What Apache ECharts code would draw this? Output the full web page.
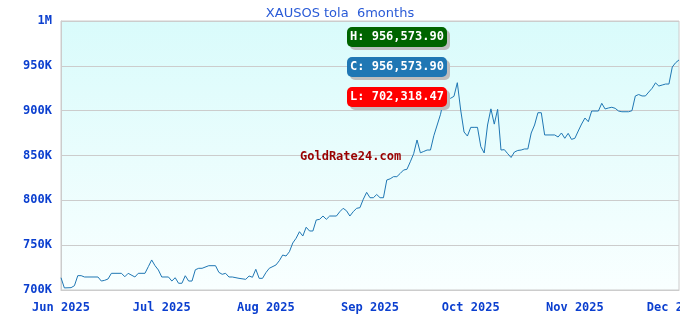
<!DOCTYPE html>
<html>
<head>
<meta charset="utf-8">
<script src="https://cdn.jsdelivr.net/npm/echarts@6/dist/echarts.min.js"></script>
<style>
html,body{margin:0;padding:0;background:#fff;}
#c{width:680px;height:320px;}
</style>
</head>
<body>
<div id="c"></div>
<script>
const chartTitle = 'XAUSOS tola  6months';
const watermark = 'GoldRate24.com';
const yTicks = [700000, 750000, 800000, 850000, 900000, 950000, 1000000];
const monthNames = ['Jan','Feb','Mar','Apr','May','Jun','Jul','Aug','Sep','Oct','Nov','Dec'];

const dates = [
'2025-06-01','2025-06-02','2025-06-04','2025-06-05','2025-06-06','2025-06-07','2025-06-08','2025-06-12','2025-06-13','2025-06-14',
'2025-06-15','2025-06-16','2025-06-19','2025-06-20','2025-06-21','2025-06-23','2025-06-24','2025-06-26','2025-06-27','2025-06-28',
'2025-06-29','2025-06-30','2025-07-01','2025-07-03','2025-07-04','2025-07-05','2025-07-06','2025-07-07','2025-07-08','2025-07-09',
'2025-07-10','2025-07-11','2025-07-12','2025-07-13','2025-07-15','2025-07-17','2025-07-18','2025-07-19','2025-07-20','2025-07-21',
'2025-07-22','2025-07-24','2025-07-26','2025-07-27','2025-07-28','2025-07-29','2025-07-30','2025-07-31','2025-08-01','2025-08-02',
'2025-08-04','2025-08-05','2025-08-06','2025-08-07','2025-08-08','2025-08-09','2025-08-10','2025-08-11','2025-08-12','2025-08-13',
'2025-08-14','2025-08-15','2025-08-16','2025-08-17','2025-08-18','2025-08-19','2025-08-20','2025-08-22','2025-08-23','2025-08-24',
'2025-08-25','2025-08-26','2025-08-27','2025-08-28','2025-08-29','2025-08-30','2025-08-31','2025-09-01','2025-09-02','2025-09-03',
'2025-09-04','2025-09-05','2025-09-06','2025-09-07','2025-09-08','2025-09-09','2025-09-10','2025-09-11','2025-09-12','2025-09-13',
'2025-09-14','2025-09-15','2025-09-16','2025-09-17','2025-09-18','2025-09-19','2025-09-20','2025-09-21','2025-09-22','2025-09-23',
'2025-09-24','2025-09-25','2025-09-26','2025-09-27','2025-09-28','2025-09-29','2025-09-30','2025-10-01','2025-10-02','2025-10-03',
'2025-10-04','2025-10-05','2025-10-06','2025-10-07','2025-10-08','2025-10-09','2025-10-10','2025-10-11','2025-10-12','2025-10-13',
'2025-10-14','2025-10-15','2025-10-16','2025-10-17','2025-10-18','2025-10-19','2025-10-20','2025-10-21','2025-10-22','2025-10-23',
'2025-10-26','2025-10-27','2025-10-28','2025-10-29','2025-10-30','2025-10-31','2025-11-01','2025-11-02','2025-11-03','2025-11-04',
'2025-11-05','2025-11-06','2025-11-08','2025-11-09','2025-11-10','2025-11-11','2025-11-12','2025-11-13','2025-11-14','2025-11-15',
'2025-11-17','2025-11-18','2025-11-19','2025-11-20','2025-11-21','2025-11-22','2025-11-23','2025-11-24','2025-11-25','2025-11-26',
'2025-11-27','2025-11-28','2025-11-29','2025-11-30','2025-12-01','2025-12-02'
];

const prices = [
713700, 702318.47, 702600, 704800, 716000, 716000, 714500, 714500, 710000, 710800,
712300, 718600, 718600, 714800, 718600, 714500, 718600, 718600, 726000, 733500,
727100, 722300, 714500, 714500, 710000, 713700, 707500, 707500, 715900, 710000,
710000, 722600, 724200, 724200, 727100, 727100, 719700, 717500, 718600, 714500,
714500, 713000, 711900, 715600, 714200, 723100, 713000, 713000, 719300, 724200,
727900, 732700, 739000, 737900, 742700, 752400, 757700, 765000, 760200, 770000,
765800, 765800, 778100, 778800, 782500, 778800, 782500, 782500, 787300, 791100,
788400, 782500, 787300, 791100, 791800, 801200, 808900, 802900, 802900, 806500,
802900, 802900, 822700, 824000, 826400, 826400, 830000, 833800, 834600, 843000,
852000, 867300, 853000, 854500, 856100, 856100, 872000, 884000, 896000, 913800,
913800, 913800, 916000, 931200, 900700, 876200, 871700, 881400, 881400, 881400,
859800, 852800, 884000, 902000, 885000, 901500, 856100, 856500, 852000, 847800,
853900, 855600, 856100, 857300, 857300, 875100, 884000, 897700, 897700, 872900,
872900, 870600, 875100, 869200, 874700, 868000, 869200, 877300, 885100, 891800,
887700, 899600, 899600, 908200, 901900, 903000, 903800, 902600, 899600, 898800,
898800, 900000, 916400, 918000, 916400, 916400, 920800, 925000, 931000, 927500,
928600, 929700, 929700, 948700, 953500, 956573.90
];

function fmtNum(v) {
  return v.toLocaleString('en-US', {minimumFractionDigits: 2, maximumFractionDigits: 2});
}
const hiVal = Math.max.apply(null, prices);
const loVal = Math.min.apply(null, prices);
const curVal = prices[prices.length - 1];

const seriesData = dates.map((d, i) => [d, prices[i]]);

const mono = '"DejaVu Sans Mono", "Liberation Mono", monospace';
const labelBlue = '#0b3fcf';

function badge(y, color, text) {
  return {
    type: 'group',
    left: 347, top: y,
    z: 100,
    children: [
      { type: 'rect', z: 100, shape: { x: 3, y: 3, width: 100, height: 20, r: 5 }, style: { fill: '#bdbdbd' } },
      { type: 'rect', z: 101, shape: { x: 0, y: 0, width: 100, height: 20, r: 5 }, style: { fill: color } },
      { type: 'text', z: 102, x: 3, y: 10, style: { text: text, fill: '#ffffff', font: 'bold 12px ' + mono, verticalAlign: 'middle', align: 'left' } }
    ]
  };
}

const chart = echarts.init(document.getElementById('c'), null, { renderer: 'canvas' });
chart.setOption({
  animation: false,
  backgroundColor: '#ffffff',
  title: {
    text: chartTitle,
    left: 'center',
    top: 2,
    textStyle: { color: '#2a5bd7', fontSize: 13, fontWeight: 'normal', fontFamily: '"DejaVu Sans", Verdana, sans-serif' }
  },
  grid: {
    left: 61, right: 1, top: 21, bottom: 30,
    containLabel: false,
    outerBoundsMode: 'none',
    show: true,
    borderColor: '#cccccc',
    borderWidth: 1,
    backgroundColor: new echarts.graphic.LinearGradient(0, 0, 0, 1, [
      { offset: 0, color: '#d9fbfb' },
      { offset: 1, color: '#f9ffff' }
    ])
  },
  xAxis: {
    type: 'time',
    min: '2025-06-01',
    max: '2025-12-02',
    minInterval: 28 * 86400000,
    maxInterval: 31 * 86400000,
    axisLine: { show: true, lineStyle: { color: '#cccccc' } },
    axisTick: { show: false },
    splitLine: { show: false },
    axisLabel: {
      color: labelBlue,
      fontFamily: mono,
      fontWeight: 'bold',
      fontSize: 12,
      margin: 12,
      hideOverlap: false,
      formatter: function (val) {
        const d = new Date(val);
        return monthNames[d.getMonth()] + ' ' + d.getFullYear();
      }
    }
  },
  yAxis: {
    type: 'value',
    min: yTicks[0],
    max: yTicks[yTicks.length - 1],
    interval: 50000,
    axisLine: { show: true, lineStyle: { color: '#cccccc' } },
    axisTick: { show: false },
    splitLine: { show: true, lineStyle: { color: '#cccccc', width: 1 } },
    axisLabel: {
      color: labelBlue,
      fontFamily: mono,
      fontWeight: 'bold',
      fontSize: 12,
      margin: 9,
      formatter: function (v) {
        if (v >= 1000000) return (v / 1000000) + 'M';
        return (v / 1000) + 'K';
      }
    }
  },
  graphic: [
    badge(27, '#006400', 'H: ' + fmtNum(hiVal)),
    badge(57, '#1f77b4', 'C: ' + fmtNum(curVal)),
    badge(87, '#ff0000', 'L: ' + fmtNum(loVal)),
    { type: 'text', left: 300, top: 151, z: 100, style: { text: watermark, fill: '#990000', font: 'bold 12px ' + mono } }
  ],
  series: [{
    type: 'line',
    data: seriesData,
    showSymbol: false,
    symbol: 'none',
    z: 2,
    lineStyle: { color: '#1f77b4', width: 1 },
    itemStyle: { color: '#1f77b4' }
  }]
});
</script>
</body>
</html>
